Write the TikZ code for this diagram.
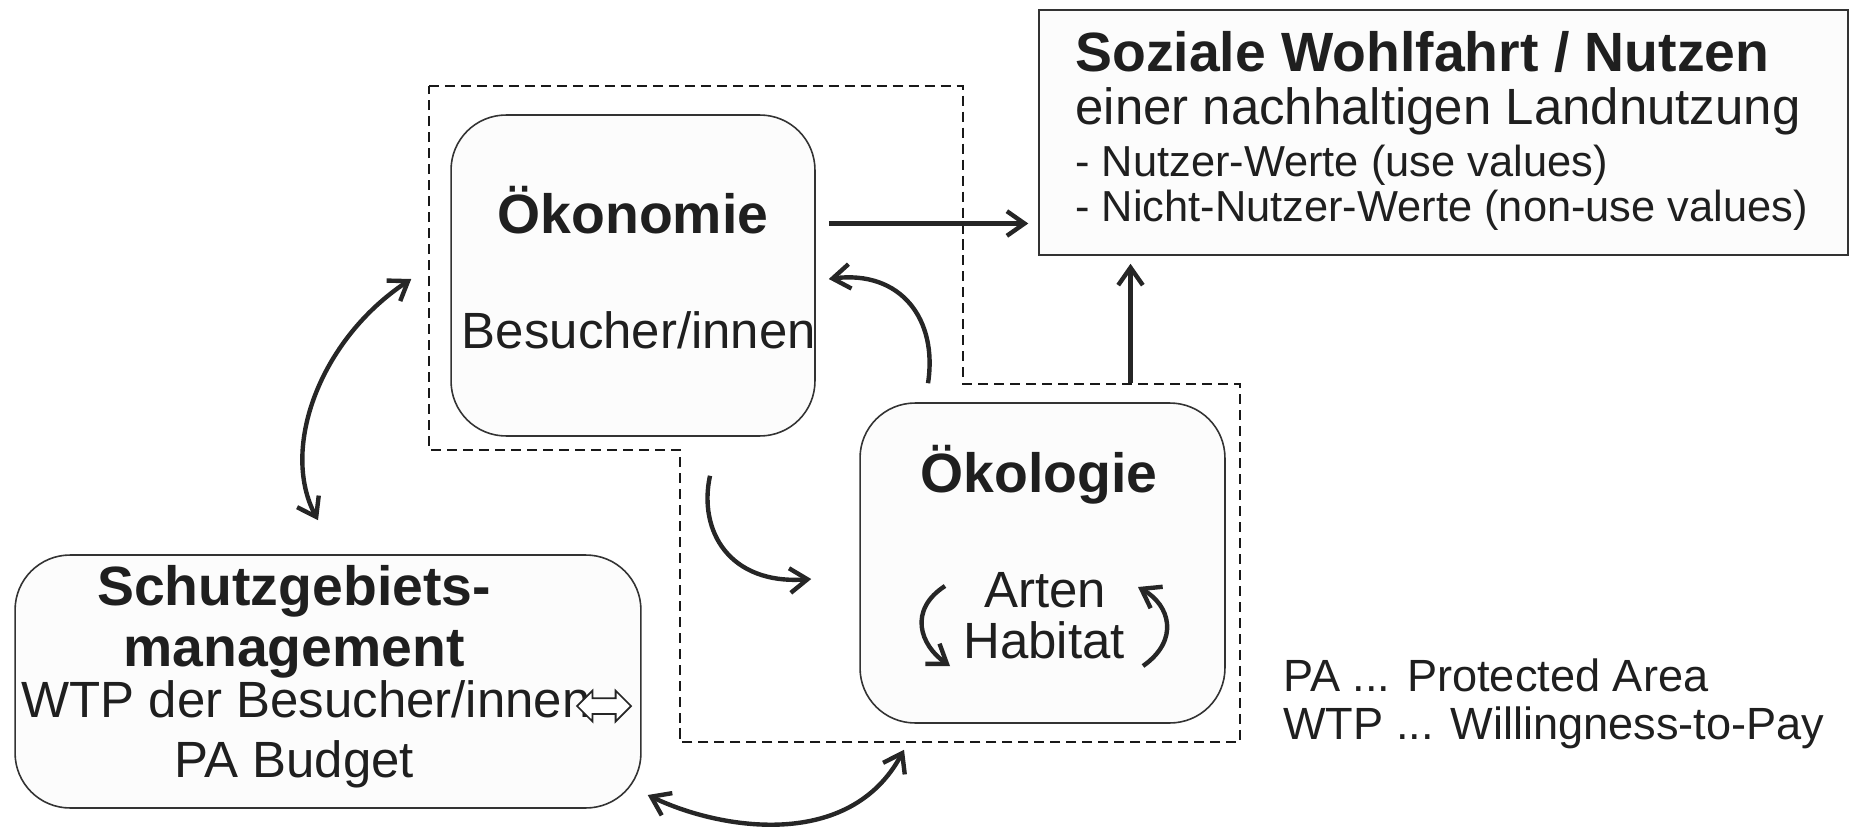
\documentclass[tikz,border=0pt]{standalone}
\usepackage{fontspec}
\setmainfont{Liberation Sans}
\usetikzlibrary{arrows.meta,calc,shapes.arrows}

\tikzset{
  box/.style={draw=black!80, line width=0.9pt, fill=black!1, inner sep=0pt, rounded corners=1.1cm},
  frame/.style={draw=black!90, line width=1.1pt, dash pattern=on 5.7pt off 3.4pt},
  flow/.style={line width=2.5pt, draw=black!85, -{Straight Barb[length=10pt,width=14pt]}},
  twoway/.style={flow, {Straight Barb[length=10pt,width=14pt]}-{Straight Barb[length=10pt,width=14pt]}},
  headtext/.style={inner sep=0pt, anchor=base, text=black!88, font=\fontsize{31.5}{36}\selectfont\bfseries},
  bodytext/.style={inner sep=0pt, anchor=base, text=black!88, font=\fontsize{29}{34}\selectfont},
  listtext/.style={inner sep=0pt, anchor=base, text=black!88, font=\fontsize{24.7}{29}\selectfont},
  legendtext/.style={inner sep=0pt, anchor=base, text=black!88, font=\fontsize{25.7}{30}\selectfont},
  hollow/.style={double arrow, draw=black!85, fill=white, line width=1pt, inner xsep=0pt, inner ysep=0.14cm,
    minimum height=1.08cm, minimum width=0.58cm, double arrow head extend=0.15cm, double arrow tip angle=90},
}

\begin{document}
\begin{tikzpicture}[x=0.02cm, y=-0.02cm]
    \useasboundingbox (0,0) rectangle (1852,831);
    % Dashed frame round economy and ecology
    \draw[frame] (429,86) -- (963,86) -- (963,384) -- (1240,384) -- (1240,742)
        -- (680,742) -- (680,450) -- (429,450) -- cycle;
    % Boxes
    \node[box, minimum width=7.28cm, minimum height=6.42cm] (oekon) at (633,275.5) {};
    \node[box, minimum width=7.3cm, minimum height=6.4cm] (oekol) at (1042.5,563) {};
    \node[box, minimum width=12.52cm, minimum height=5.06cm] (schutz) at (328,681.5) {};
    \node[box, sharp corners, minimum width=16.18cm, minimum height=4.9cm] (wohl) at (1443.5,132.5) {};
    % Economy
    \node[headtext] (oekontitle) at (633,234) {Ökonomie};
    \node[bodytext] (visitors) at (639,348) {Besucher/innen};
    % Ecology
    \node[headtext] (oekoltitle) at (1039,492) {Ökologie};
    \node[bodytext] (species) at (1045,607) {Arten};
    \node[bodytext] (habitat) at (1044,658) {Habitat};
    % Welfare
    \node[headtext, anchor=base west] (wohltitle) at (1075,72) {Soziale Wohlfahrt / Nutzen};
    \node[bodytext, anchor=base west] (wohlsub) at (1075,125) {einer nachhaltigen Landnutzung};
    \node[listtext, anchor=base west] (usevals) at (1075,177) {- Nutzer-Werte (use values)};
    \node[listtext, anchor=base west] (nonusevals) at (1075,222) {- Nicht-Nutzer-Werte (non-use values)};
    % Management
    \node[headtext] (schutztitle) at (294,605) {Schutzgebiets-};
    \node[headtext] (schutzsub) at (294,666) {management};
    \node[bodytext, anchor=base west] (wtp) at (21,717) {WTP der Besucher/innen};
    \node[hollow] (wtpsym) at (604,706) {};
    \node[bodytext] (budget) at (294,777) {PA Budget};
    % Legend
    \node[legendtext, anchor=base west] (legpa) at (1283,691) {PA ... Protected Area};
    \node[legendtext, anchor=base west] (legwtp) at (1283,739) {WTP ... Willingness-to-Pay};
    % Arrows to welfare
    \draw[flow] ($(oekon.east)+(13,-52)$) -- ($(wohl.west|-oekon.east)+(-10,-52)$);
    \draw[flow] ($(oekol.north)+(88,-19)$) -- ($(wohl.south-|oekol.north)+(88,8)$);
    % Economy <-> ecology
    \draw[flow] ($(oekol.north)+(-114.5,-19)$) .. controls +(10,-64) and +(72,-9) .. ($(oekon.east)+(13,3.5)$);
    \draw[flow] ($(oekon.south)+(77,39)$) .. controls +(-12,55) and +(-82,6) .. ($(oekol.west)+(-48,16)$);
    % Management <-> economy and ecology
    \draw[twoway] ($(schutz.north)+(-10,-34)$) .. controls +(-38,-71) and +(-92,61) .. ($(oekon.west)+(-39,3.5)$);
    \draw[twoway] ($(schutz.east)+(6,113.5)$) .. controls +(73,35) and +(-54,101) .. ($(oekol.south)+(-138.5,26)$);
    % Species / habitat cycle
    \draw[flow] ($(oekol.center)+(-97.5,23)$) .. controls +(-37,24) and +(-30,-21) .. ($(oekol.center)+(-92.5,103)$);
    \draw[flow] ($(oekol.center)+(100.5,103)$) .. controls +(37,-26) and +(32,18) .. ($(oekol.center)+(95.5,24)$);
\end{tikzpicture}
\end{document}
